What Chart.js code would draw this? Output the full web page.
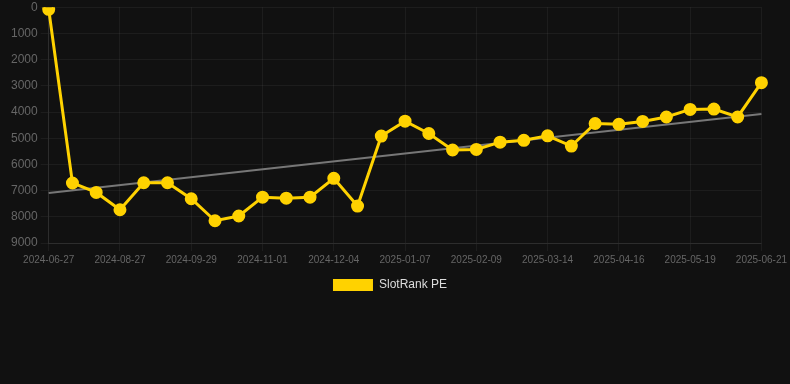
<!DOCTYPE html>
<html>
<head>
<meta charset="utf-8">
<script src="https://cdn.jsdelivr.net/npm/chart.js@4/dist/chart.umd.min.js"></script>
<style>
  html, body { margin: 0; padding: 0; background: #111111; overflow: hidden; }
  #wrap { width: 790px; height: 304px; position: relative; margin-top: -3px; }
</style>
</head>
<body>
<div id="wrap"><canvas id="c"></canvas></div>
<script>
const dates = [
  "2024-06-27","2024-07-17","2024-08-06","2024-08-27","2024-09-07","2024-09-18",
  "2024-09-29","2024-10-10","2024-10-21","2024-11-01","2024-11-12","2024-11-23",
  "2024-12-04","2024-12-15","2024-12-26","2025-01-07","2025-01-18","2025-01-29",
  "2025-02-09","2025-02-20","2025-03-03","2025-03-14","2025-03-25","2025-04-05",
  "2025-04-16","2025-04-27","2025-05-08","2025-05-19","2025-05-30","2025-06-10",
  "2025-06-21"
];
const rankValues = [
  80, 6710, 7070, 7730, 6700, 6700,
  7310, 8150, 7970, 7250, 7290, 7250,
  6530, 7590, 4920, 4350, 4820, 5450,
  5430, 5150, 5080, 4910, 5300, 4440,
  4470, 4360, 4190, 3900, 3890, 4190,
  2880
];
const trendStart = 7090;
const trendEnd = 4080;
const yTicks = [0,1000,2000,3000,4000,5000,6000,7000,8000,9000];

const trendValues = dates.map((d, i) => i === 0 ? trendStart : (i === dates.length - 1 ? trendEnd : null));

const legendShift = {
  id: 'legendShift',
  afterLayout(chart) {
    if (chart.legend) { chart.legend.left -= 9; chart.legend.right -= 9; }
  }
};

new Chart(document.getElementById('c'), {
  type: 'line',
  plugins: [legendShift],
  data: {
    labels: dates,
    datasets: [
      {
        label: 'SlotRank PE',
        data: rankValues,
        borderColor: '#ffd200',
        backgroundColor: '#ffd200',
        borderWidth: 3,
        pointRadius: 5,
        pointHoverRadius: 6,
        pointBackgroundColor: '#ffd200',
        pointBorderColor: '#ffd200',
        tension: 0,
        order: 1
      },
      {
        label: 'Trend',
        data: trendValues,
        borderColor: '#777777',
        borderWidth: 2,
        pointRadius: 0,
        spanGaps: true,
        fill: false,
        order: 2
      }
    ]
  },
  options: {
    responsive: true,
    maintainAspectRatio: false,
    animation: false,
    layout: { padding: { top: 0, left: 8, right: 0, bottom: 0 } },
    plugins: {
      legend: {
        position: 'bottom',
        labels: {
          color: '#dddddd',
          font: { family: 'Arial, "Liberation Sans", sans-serif', size: 12 },
          boxWidth: 40,
          boxHeight: 12,
          filter: (item) => item.datasetIndex === 0,
          generateLabels: (chart) => {
            const items = Chart.defaults.plugins.legend.labels.generateLabels(chart);
            items.forEach(it => { it.lineWidth = 0; it.strokeStyle = 'rgba(0,0,0,0)'; });
            return items;
          }
        }
      },
      tooltip: { enabled: false }
    },
    scales: {
      x: {
        grid: { color: 'rgba(255,255,255,0.05)' },
        border: { color: 'rgba(255,255,255,0.07)' },
        ticks: {
          autoSkip: false,
          maxRotation: 0,
          color: '#666666',
          font: { family: 'Arial, "Liberation Sans", sans-serif', size: 10 },
          callback: function(v, i) { return i % 3 === 0 ? dates[i] : null; }
        }
      },
      y: {
        reverse: true,
        min: 0,
        max: 9000,
        afterBuildTicks: (axis) => { axis.ticks = yTicks.map(v => ({ value: v })); },
        grid: { color: 'rgba(255,255,255,0.05)' },
        border: { color: 'rgba(255,255,255,0.07)' },
        ticks: {
          color: '#666666',
          font: { family: 'Arial, "Liberation Sans", sans-serif', size: 12 },
          callback: (v) => String(v)
        }
      }
    }
  }
});
</script>
</body>
</html>
